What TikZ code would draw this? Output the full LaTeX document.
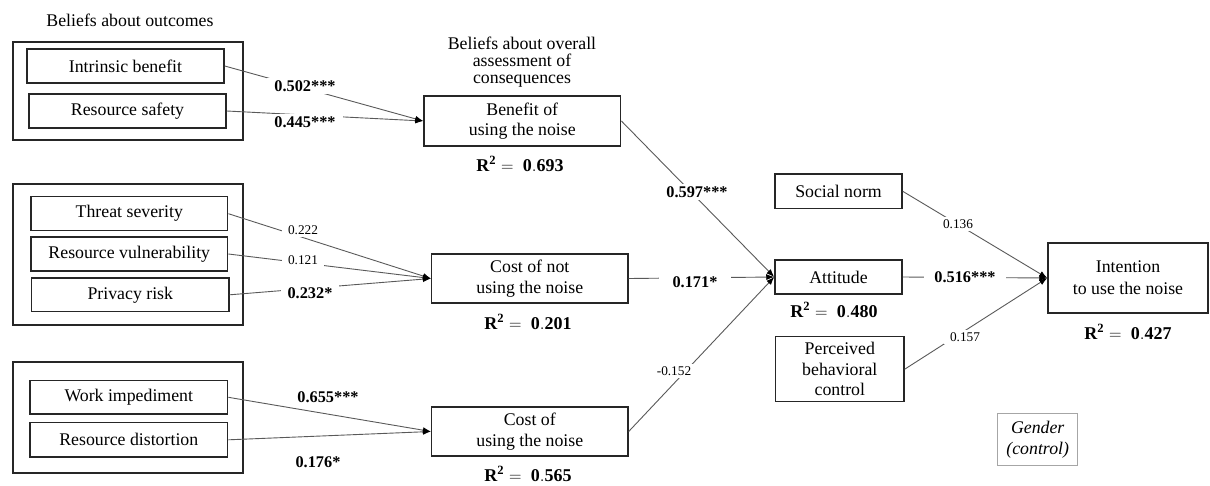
\documentclass[tikz,border=0pt]{standalone}
\usepackage{fontspec}
\setmainfont{Liberation Serif}
\usetikzlibrary{arrows.meta}
\begin{document}
\begin{tikzpicture}[x=1pt,y=-1pt,
  every node/.style={font=\fontsize{17.8}{20.5}\selectfont},
  box/.style={draw=black!85, line width=1.5pt, inner sep=0pt, align=center},
  group/.style={draw=black!85, line width=1.6pt},
  conn/.style={draw=black!65, line width=0.9pt, -{Latex[length=8pt,width=6pt,color=black]}},
  blab/.style={fill=white, inner xsep=7pt, inner ysep=2pt, font=\bfseries\fontsize{16.3}{16}\selectfont},
  slab/.style={fill=white, inner xsep=6pt, inner ysep=2pt, font=\fontsize{13.3}{13}\selectfont},
  rsq/.style={inner sep=1pt, font=\fontsize{18}{18}\selectfont},
  head/.style={align=center, font=\fontsize{17.8}{17}\selectfont}
]
\useasboundingbox (0,0) rectangle (1210,485);
% group frames
\draw[group] (12.7,41.7) rectangle (242.7,140);
\draw[group] (12.7,184) rectangle (242.7,325);
\draw[group] (12.7,362) rectangle (242.7,473);
% headers
\node[head] (h1) at (130,20) {Beliefs about outcomes};
\node[head] (h2) at (522,62) {Beliefs about overall\\assessment of\\consequences};
% outcome boxes
\node[box, minimum width=197, minimum height=34] (ib) at (125.5,66) {Intrinsic benefit};
\node[box, minimum width=197, minimum height=34] (rs) at (127.5,111) {Resource safety};
\node[box, minimum width=196.7, minimum height=34] (ts) at (129.3,213.7) {Threat severity};
\node[box, minimum width=196.7, minimum height=34] (rv) at (129.3,254) {Resource vulnerability};
\node[box, minimum width=197.3, minimum height=33.7] (pr) at (130.3,294.8) {Privacy risk};
\node[box, minimum width=197.7, minimum height=33.3] (wi) at (128.8,397.3) {Work impediment};
\node[box, minimum width=197.7, minimum height=34.3] (rd) at (128.8,439.8) {Resource distortion};
% overall assessment boxes
\node[box, minimum width=196.7, minimum height=50] (ben) at (522.3,121) {Benefit of\\using the noise};
\node[box, minimum width=196.3, minimum height=49] (cnot) at (529.8,278.5) {Cost of not\\using the noise};
\node[box, minimum width=196.3, minimum height=49] (cost) at (529.8,431.5) {Cost of\\using the noise};
% TPB boxes
\node[box, minimum width=127, minimum height=34.7] (sn) at (838.5,191.3) {Social norm};
\node[box, minimum width=127, minimum height=34] (att) at (838.5,277) {Attitude};
\node[box, minimum width=128.3, minimum height=65] (pbc) at (839.8,369.2) {Perceived\\behavioral\\control};
\node[box, minimum width=160, minimum height=70, font=\fontsize{17.8}{22}\selectfont] (int) at (1128,278) {Intention\\to use the noise};
\node[box, draw=black!35, line width=1pt, minimum width=80, minimum height=51.7, font=\itshape\fontsize{17.8}{21}\selectfont] (gen) at (1037.7,439.8) {Gender\\(control)};
% R squared
\node[rsq] (r1) at (520,164) {$\mathbf{R^2 =\ 0.693}$};
\node[rsq] (r2) at (528,322) {$\mathbf{R^2 =\ 0.201}$};
\node[rsq] (r3) at (528,474) {$\mathbf{R^2 =\ 0.565}$};
\node[rsq] (r4) at (834,310) {$\mathbf{R^2 =\ 0.480}$};
\node[rsq] (r5) at (1128,332) {$\mathbf{R^2 =\ 0.427}$};
% connectors
\draw[conn] (ib.east) -- (ben.west);
\draw[conn] (rs.east) -- (ben.west);
\draw[conn] (ts.east) -- (cnot.west);
\draw[conn] (rv.east) -- (cnot.west);
\draw[conn] (pr.east) -- (cnot.west);
\draw[conn] (wi.east) -- (cost.west);
\draw[conn] (rd.east) -- (cost.west);
\draw[conn] (ben.east) -- (att.west);
\draw[conn] (cnot.east) -- (att.west);
\draw[conn] (cost.east) -- (att.west);
\draw[conn] (sn.east) -- (int.west);
\draw[conn] (att.east) -- (int.west);
\draw[conn] (pbc.east) -- (int.west);
% path coefficients
\node[blab] (l1) at (305,86) {0.502***};
\node[blab] (l2) at (305,122) {0.445***};
\node[slab] (l3) at (303,230) {0.222};
\node[slab] (l4) at (303,260) {0.121};
\node[blab] (l5) at (310,293) {0.232*};
\node[blab, fill=none] (l6) at (328,397) {0.655***};
\node[blab, fill=none] (l7) at (318,462) {0.176*};
\node[blab] (l8) at (697,192) {0.597***};
\node[blab, inner xsep=14pt] (l9) at (695,282) {0.171*};
\node[slab] (l10) at (674,371) {-0.152};
\node[slab] (l11) at (958,224) {0.136};
\node[blab, inner xsep=10pt] (l12) at (965,277) {0.516***};
\node[slab] (l13) at (965,337) {0.157};
\end{tikzpicture}
\end{document}
